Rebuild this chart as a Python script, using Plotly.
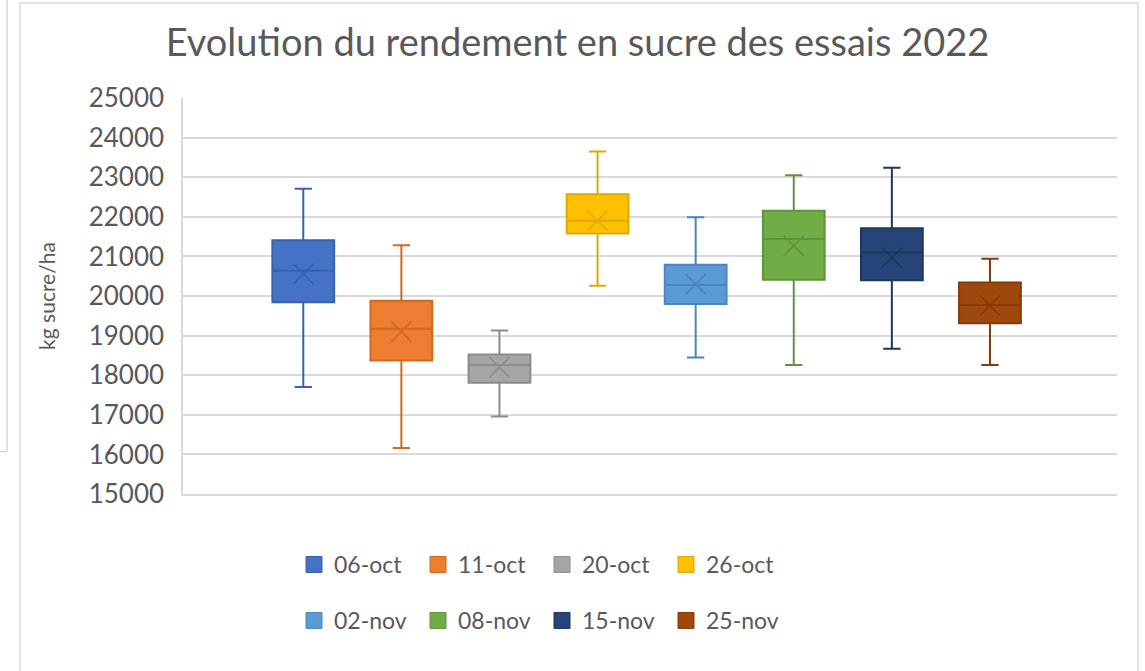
import plotly.graph_objects as go

# ---- data ----
series = ["06-oct", "11-oct", "20-oct", "26-oct", "02-nov", "08-nov", "15-nov", "25-nov"]
lower = [17700, 16160, 16960, 20260, 18450, 18260, 18670, 18260]
q1 = [19840, 18370, 17810, 21580, 19800, 20410, 20400, 19310]
median = [20640, 19170, 18260, 21900, 20280, 21440, 21100, 19770]
mean = [20560, 19100, 18200, 21900, 20300, 21270, 20970, 19760]
q3 = [21410, 19880, 18520, 22570, 20790, 22150, 21710, 20340]
upper = [22710, 21280, 19130, 23650, 21990, 23050, 23240, 20940]

y_ticks = [15000, 16000, 17000, 18000, 19000, 20000, 21000, 22000, 23000, 24000, 25000]

fill_colors = ["#4472C4", "#ED7D31", "#A5A5A5", "#FFC000", "#5B9BD5", "#70AD47", "#264478", "#9E480E"]
line_colors = ["#3862B0", "#D2691F", "#8C8C8C", "#E0A800", "#4A86BE", "#5E953A", "#1C3760", "#843B0A"]

FONT = "Lato"
TXT = "#595959"

W, H = 1145, 671
L, R, T, B = 183, 28, 98, 176.6
pw = W - L - R
ph = H - T - B

def px_x(x):
    return (x - L) / pw

def px_y(y):
    return (H - B - y) / ph

fig = go.Figure()

for i, name in enumerate(series):
    fig.add_trace(go.Box(
        x=[name],
        q1=[q1[i]], median=[median[i]], q3=[q3[i]],
        lowerfence=[lower[i]], upperfence=[upper[i]],
        name=name,
        fillcolor=fill_colors[i],
        line=dict(color=line_colors[i], width=2),
        whiskerwidth=0.28,
        boxpoints=False,
        showlegend=False,
        hoverinfo="skip",
    ))
    fig.add_trace(go.Scatter(
        x=[name], y=[mean[i]],
        mode="markers",
        marker=dict(symbol="x-thin", size=20,
                    line=dict(color=line_colors[i], width=1.6)),
        showlegend=False,
        hoverinfo="skip",
    ))

# legend entries (square swatches)
for i, name in enumerate(series):
    fig.add_trace(go.Scatter(
        x=[None], y=[None],
        mode="markers",
        name=name,
        marker=dict(symbol="square", size=16, color=fill_colors[i],
                    line=dict(color=line_colors[i], width=1)),
        legend="legend" if i < 4 else "legend2",
    ))

legend_common = dict(
    orientation="h",
    font=dict(family=FONT, size=23, color=TXT),
    bgcolor="rgba(0,0,0,0)",
    entrywidth=79,
    itemwidth=30,
    xanchor="left",
    yanchor="middle",
    traceorder="normal",
)

fig.update_layout(
    width=W, height=H,
    margin=dict(l=L, r=R, t=T, b=B, autoexpand=False),
    paper_bgcolor="white",
    plot_bgcolor="white",
    boxmode="overlay",
    boxgap=0.1,
    title=dict(
        text="Evolution du rendement en sucre des essais 2022",
        font=dict(family=FONT, size=38, color=TXT),
        x=577.5 / W, xanchor="center", xref="container",
        y=1 - 42.5 / H, yanchor="middle", yref="container",
    ),
    xaxis=dict(
        type="category",
        categoryorder="array", categoryarray=series,
        range=[-1.226, 8.295],
        showticklabels=False, showgrid=False, zeroline=False,
        showline=True, linecolor="#D9D9D9", linewidth=1.5,
        ticks="",
    ),
    yaxis=dict(
        range=[15000, 25000],
        tickvals=y_ticks,
        ticktext=[str(v) for v in y_ticks],
        tickfont=dict(family=FONT, size=26, color=TXT),
        showgrid=True, gridcolor="#D9D9D9", gridwidth=1.5,
        zeroline=False,
        showline=True, linecolor="#D9D9D9", linewidth=1.5,
        ticks="outside", ticklen=12, tickcolor="rgba(0,0,0,0)",
        title=dict(text="kg sucre/ha", font=dict(family=FONT, size=21, color=TXT), standoff=27),
    ),
    legend=dict(x=px_x(294), y=px_y(565), **legend_common),
    legend2=dict(x=px_x(294), y=px_y(621), **legend_common),
    shapes=[
        dict(type="rect", xref="paper", yref="paper",
             x0=px_x(20), x1=px_x(1138), y0=px_y(700), y1=px_y(3),
             line=dict(color="#D9D9D9", width=1.5), layer="below"),
        dict(type="line", xref="paper", yref="paper",
             x0=px_x(7), x1=px_x(7), y0=px_y(452), y1=px_y(-5),
             line=dict(color="#D9D9D9", width=1.5)),
        dict(type="line", xref="paper", yref="paper",
             x0=px_x(-5), x1=px_x(7), y0=px_y(452), y1=px_y(452),
             line=dict(color="#D9D9D9", width=1.5)),
    ],
)

fig.write_html("out.html", config={"displayModeBar": False},
               post_script="document.body.style.margin='0';")
